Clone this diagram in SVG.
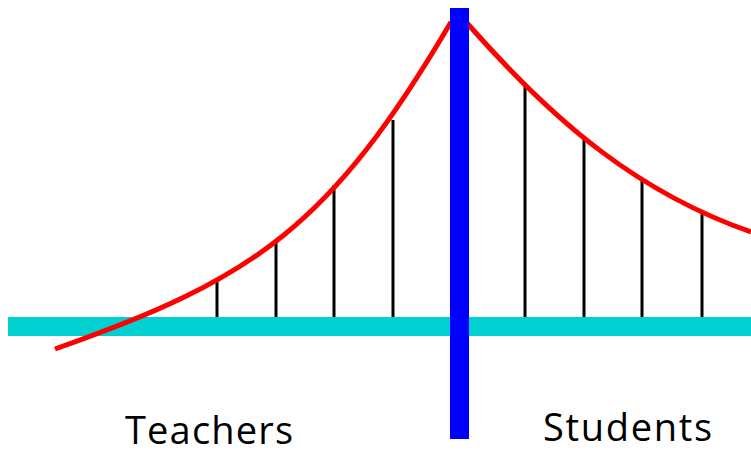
<svg xmlns="http://www.w3.org/2000/svg" width="751" height="456" viewBox="0 0 751 456">
<style>
.hanger{stroke:#000;stroke-width:3;fill:none}
.cable{stroke:#ff0000;stroke-width:5;fill:none;stroke-linecap:butt}
.label{font-family:"Open Sans","Liberation Sans",sans-serif;font-size:38px;fill:#000}
</style>
<rect width="751" height="456" fill="#fff"/>
<g id="deck"><rect x="8" y="317" width="743" height="19" fill="#00d0d0"/></g>
<g id="hangers">
<line class="hanger" x1="217" y1="280" x2="217" y2="317"/>
<line class="hanger" x1="276" y1="240" x2="276" y2="317"/>
<line class="hanger" x1="334" y1="185" x2="334" y2="317"/>
<line class="hanger" x1="393" y1="120" x2="393" y2="317"/>
<line class="hanger" x1="525" y1="86" x2="525" y2="317"/>
<line class="hanger" x1="584" y1="136" x2="584" y2="317"/>
<line class="hanger" x1="642" y1="178" x2="642" y2="317"/>
<line class="hanger" x1="702" y1="213" x2="702" y2="317"/>
</g>
<g id="cables">
<path class="cable" d="M55,349 C255,279 331,226 451,22"/>
<path class="cable" d="M467,23 C558,126.5 641,193.5 751,232"/>
</g>
<g id="tower"><rect x="450" y="8" width="19" height="431" fill="#0000ff"/></g>
<g id="teachers"><text class="label" x="125" y="444" textLength="168" lengthAdjust="spacing">Teachers</text></g>
<g id="students"><text class="label" x="543" y="441" textLength="169" lengthAdjust="spacing">Students</text></g>
</svg>
